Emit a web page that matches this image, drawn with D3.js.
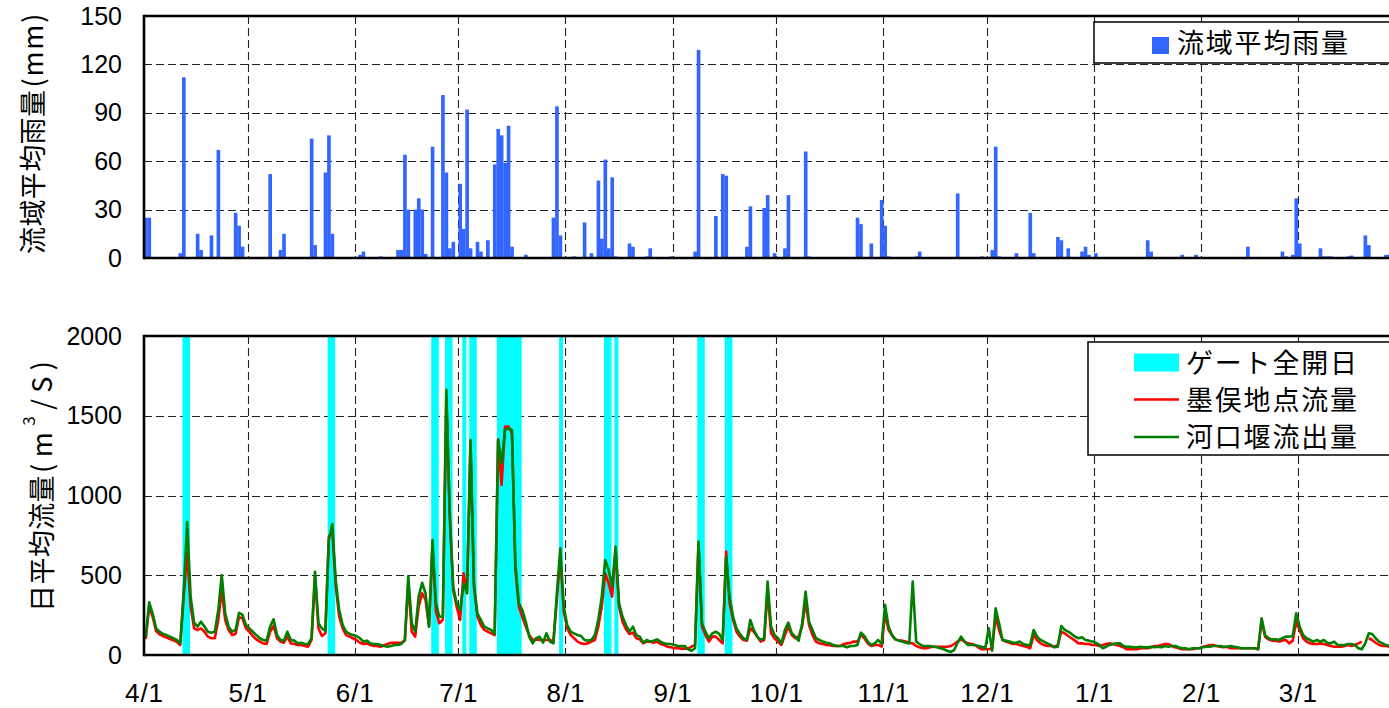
<!DOCTYPE html>
<html>
<head>
<meta charset="utf-8">
<script src="https://cdn.jsdelivr.net/npm/d3@7"></script>
<style>
  body { margin: 0; background: #fff; }
  svg { display: block; }
</style>
</head>
<body>
<svg id="chart" width="1389" height="708"></svg>
<script>
// ---- data -------------------------------------------------------------
// Daily series start on 4/1 (index 0 = 4/1, one value per day).
const startDate = "2009-04-01";
const endDate = "2010-04-01";

// Basin-average daily rainfall (mm)
const rainfall = [
  25,25,0,0,0,0,0,0,0,0,
  3,112,0,0,0,15,5,0,0,14,
  0,67,0,0,0,0,28,20,7,0,
  0,0,0,0,0,0,52,0,0,5,
  15,0,0,0,0,0,0,0,74,8,
  0,0,53,76,15,0,0,0,0,0,
  0,0,2,4,0,0,0,0,1,0,
  0,0,0,5,5,64,30,0,30,37,
  30,2.5,0,69,0,0,101,53,6,10,
  0,46,18,92,6,0,10,4,0,11,
  0,58,80,76,59,82,7,0,0,0,
  2,0,0,0,0,0,0,0,25,94,
  14,0,0,0,1,0,0,22,0,3,
  0,48,12,61,6,50,1,0,0,0,
  9,7,0,0,0,1,6,0,0,0,
  0,0,1,0,0,0,0,0,0,4,
  129,0,0,0,0,26,0,52,51,0,
  0,0,0,0,7,32,0,0,0,31,
  39,0,3,0,0,6,39,0,0,0,
  0,66,1,0,0,0,0,0,0,0,
  0,0,0,0,0,0,25,21,0,0,
  9,0,0,36,20,1,0,0,0,0,
  0,0,0,1,4,0,0,0,0,0,
  0,0,0,0,0,40,0,0,0,0,
  0,0,1,0,0,5,69,1,0,0,
  0,0,3,0,0,0,28,3,0,0,
  0,0,0,0,13,11,0,6,0,0,
  0,4,7,2,0,3,0,0,0,0,
  0,0,0,0,0,0,0,0,0,0,
  11,4,0,0,0,0,0,0,0,0,
  2,0,0,0,2,0,0,0,0,0,
  0,0,0,0,0,0,0,0,0,7,
  0,0,0,0.5,0,0,0,0,0,4,
  1,0,2,37,9,0.5,0,0,0,0,
  6,1,1,1,0,0,0,0,1,1.5,
  0.5,0,0,14,8,0.5,0.5,0.5,0,2,
  2
];

// Daily mean discharge at Sunomata (m3/s)
const flowSunomata = [
  100,305,240,150,130,118,110,100,92,82,
  63,370,640,303,167,157,167,146,115,105,
  105,220,408,220,157,125,132,236,230,167,
  146,119,98,84,73,69,146,182,105,84,
  77,115,73,69,63,63,56,52,94,491,
  167,119,136,740,784,428,240,167,125,115,
  105,94,77,69,73,63,56,56,52,61,
  69,77,77,77,77,90,449,146,115,303,
  387,345,178,680,272,199,220,1620,867,408,
  303,220,512,387,1338,428,240,188,157,146,
  136,125,1352,1066,1432,1432,1390,533,303,240,
  178,125,94,98,94,94,94,94,84,345,
  617,272,167,125,105,84,73,69,73,84,
  94,178,303,512,449,366,659,303,209,161,
  132,140,105,98,73,84,84,77,84,69,
  63,52,48,42,42,40,40,40,52,63,
  700,178,125,84,115,115,94,73,648,324,
  220,146,115,94,90,167,146,115,84,94,
  397,136,105,84,63,125,178,125,105,115,
  178,334,188,125,84,73,69,63,61,56,
  56,56,69,73,77,84,84,125,105,73,
  56,63,63,52,261,157,125,98,90,90,
  84,77,73,56,48,42,42,48,52,52,
  52,52,52,56,69,84,98,84,73,69,
  63,48,36,36,36,42,240,157,94,84,
  77,69,69,63,56,52,42,125,94,73,
  63,56,56,52,63,146,136,119,105,90,
  73,73,69,69,63,63,56,63,69,73,
  69,63,56,48,36,36,36,36,42,42,
  42,48,56,56,63,69,69,56,48,42,
  36,36,36,36,42,42,52,56,63,63,
  56,52,48,52,42,42,42,42,42,42,
  42,42,36,220,115,98,90,90,84,90,
  94,73,90,209,157,105,84,73,69,69,
  73,69,63,56,52,52,52,56,63,56,
  63,73,84,null,105,94,77,63,56,56,
  52
];

// Daily outflow from the estuary weir (m3/s)
const flowWeirOutflow = [
  110,330,260,167,146,132,125,115,105,94,
  73,400,834,366,203,178,209,178,146,140,
  146,282,502,261,178,146,157,265,251,188,
  167,146,125,105,94,90,178,224,125,94,
  90,146,94,90,73,77,69,69,105,522,
  199,167,153,721,821,470,282,188,146,132,
  125,119,105,84,90,73,69,69,63,56,
  52,56,63,63,69,94,495,199,146,366,
  453,387,178,721,324,240,240,1662,888,428,
  324,282,449,387,1348,449,261,220,178,167,
  157,132,1348,1202,1411,1421,1411,575,324,282,
  209,115,73,105,115,77,136,84,73,387,
  669,303,188,146,136,125,119,94,90,94,
  125,220,366,596,533,428,680,324,240,188,
  146,178,125,115,77,94,84,90,98,84,
  73,69,69,63,56,56,56,36,27,42,
  711,199,146,105,136,146,132,94,617,366,
  240,167,132,105,94,220,157,115,94,105,
  460,178,125,105,73,157,203,136,115,90,
  199,397,209,157,105,94,84,77,73,63,
  56,56,56,48,56,56,63,140,119,84,
  63,73,94,69,314,178,125,98,90,84,
  77,73,460,84,69,56,56,56,52,48,
  42,36,27,19,31,77,115,84,63,63,
  63,56,52,42,167,27,293,199,94,90,
  84,77,77,84,69,63,63,157,115,94,
  84,73,63,48,52,182,157,146,132,115,
  105,111,94,90,84,77,63,42,52,63,
  69,73,73,56,52,52,48,48,52,48,
  48,52,48,52,48,56,52,56,56,48,
  42,42,36,42,42,42,48,52,52,56,
  56,56,52,52,56,52,48,42,42,42,
  42,42,36,230,125,105,98,98,94,105,
  115,115,119,261,178,125,105,94,84,94,
  84,94,77,73,84,63,63,63,69,69,
  63,42,36,73,136,132,105,84,73,63,
  56
];

// Days on which the weir gates were fully opened
const gateOpenDays = [
  "2009-04-12","2009-04-13","2009-05-24","2009-05-25",
  "2009-06-23","2009-06-24","2009-06-27","2009-06-28",
  "2009-07-02","2009-07-04","2009-07-05",
  "2009-07-12","2009-07-13","2009-07-14","2009-07-15","2009-07-16","2009-07-17","2009-07-18",
  "2009-07-30","2009-08-12","2009-08-13","2009-08-15",
  "2009-09-08","2009-09-09","2009-09-16","2009-09-17"
];

const monthLabels = ["4/1","5/1","6/1","7/1","8/1","9/1","10/1","11/1","12/1","1/1","2/1","3/1"];
const rainTicks = [0, 30, 60, 90, 120, 150];
const flowTicks = [0, 500, 1000, 1500, 2000];

const rainLegend = "流域平均雨量";
const gateLegend = "ゲート全開日";
const sunomataLegend = "墨俣地点流量";
const weirLegend = "河口堰流出量";

// ---- setup ------------------------------------------------------------
const svg = d3.select("#chart");
const CJK = "'Noto Sans CJK JP', 'Noto Sans', sans-serif";
const NUM = "'Liberation Sans', Arial, sans-serif";
const BLUE = "#3366ff", CYAN = "#00ffff", RED = "#ff0000", GREEN = "#008000";

const parse = d3.utcParse("%Y-%m-%d");
const t0 = parse(startDate), t1 = parse(endDate);
const DAY = 864e5;
const dateOf = i => new Date(t0.getTime() + i * DAY);

const left = 144, right = 1405;
const x = d3.scaleUtc().domain([t0, t1]).range([left, right]);
const dayW = x(dateOf(1)) - x(t0);

const rainTop = 16, rainBottom = 258;
const flowTop = 336, flowBottom = 655;
const yRain = d3.scaleLinear().domain([0, 150]).range([rainBottom, rainTop]);
const yFlow = d3.scaleLinear().domain([0, 2000]).range([flowBottom, flowTop]);

const monthStarts = d3.utcMonth.range(t0, t1);

function grid(g, yScale, ticks, top, bottom) {
  g.selectAll("line.h").data(ticks.slice(1, -1)).join("line")
    .attr("x1", left).attr("x2", 1389)
    .attr("y1", d => Math.round(yScale(d)) + 0.5).attr("y2", d => Math.round(yScale(d)) + 0.5);
  g.selectAll("line.v").data(monthStarts.slice(1)).join("line")
    .attr("x1", d => Math.round(x(d)) + 0.5).attr("x2", d => Math.round(x(d)) + 0.5)
    .attr("y1", top).attr("y2", bottom);
  g.attr("stroke", "#222").attr("stroke-width", 1.1).attr("stroke-dasharray", "8,4");
}

function frame(g, top, bottom) {
  g.attr("stroke", "#000").attr("stroke-width", 2.6).attr("fill", "none");
  g.append("line").attr("x1", left).attr("x2", 1389).attr("y1", top).attr("y2", top);
  g.append("line").attr("x1", left).attr("x2", 1389).attr("y1", bottom).attr("y2", bottom);
  g.append("line").attr("x1", left).attr("x2", left).attr("y1", top - 1.3).attr("y2", bottom + 1.3);
}

function yLabels(scale, ticks) {
  const ax = svg.append("g").attr("transform", `translate(${left},0)`)
    .call(d3.axisLeft(scale).tickValues(ticks).tickSize(0).tickPadding(22).tickFormat(d3.format("d")));
  ax.select(".domain").remove();
  ax.selectAll("text").attr("font-family", NUM).attr("font-size", 25).attr("fill", "#000");
}

// Vertical axis title: CJK part reads upward from `bottom`, the unit part follows it.
function yTitle(cx, bottom, cjk, unitLen, unitParts) {
  const g = svg.append("g").attr("transform", `translate(${cx},${bottom}) rotate(-90)`)
    .attr("font-family", CJK).attr("font-size", 27).attr("fill", "#000");
  const t1el = g.append("text").attr("x", 0).attr("y", 0)
    .attr("dominant-baseline", "central").attr("letter-spacing", 0.4).text(cjk);
  const cjkLen = t1el.node().getComputedTextLength();
  const t2el = g.append("text").attr("x", cjkLen + 2).attr("y", 0)
    .attr("dominant-baseline", "central")
    .attr("textLength", unitLen).attr("lengthAdjust", "spacing");
  unitParts.forEach(p => {
    const ts = t2el.append("tspan").text(p.text);
    if (p.sup) ts.attr("baseline-shift", "super").attr("font-size", 17);
  });
}

// ---- rainfall panel -------------------------------------------------
grid(svg.append("g"), yRain, rainTicks, rainTop, rainBottom);

svg.append("g").attr("fill", BLUE)
  .selectAll("rect").data(rainfall.map((v, i) => ({ d: dateOf(i), v })).filter(e => e.v > 0))
  .join("rect")
  .attr("x", e => x(e.d))
  .attr("width", dayW + 0.2)
  .attr("y", e => yRain(e.v))
  .attr("height", e => rainBottom - yRain(e.v));

frame(svg.append("g"), rainTop, rainBottom);
yLabels(yRain, rainTicks);
yTitle(31, 254, "流域平均雨量", 74, [{ text: "(mm)" }]);

// rainfall legend
const lg1 = svg.append("g");
lg1.append("rect").attr("x", 1094).attr("y", 22).attr("width", 320).attr("height", 41)
  .attr("fill", "#fff").attr("stroke", "#000").attr("stroke-width", 1.5);
lg1.append("rect").attr("x", 1152).attr("y", 37).attr("width", 17).attr("height", 17).attr("fill", BLUE);
lg1.append("text").attr("x", 1177).attr("y", 53)
  .attr("font-family", CJK).attr("font-size", 27).attr("letter-spacing", 1.8)
  .text(rainLegend);

// ---- discharge panel -------------------------------------------------
grid(svg.append("g"), yFlow, flowTicks, flowTop, flowBottom);

svg.append("g").attr("fill", CYAN)
  .selectAll("rect").data(gateOpenDays.map(parse)).join("rect")
  .attr("x", d => x(d) + 0.5)
  .attr("width", dayW + 0.6)
  .attr("y", flowTop)
  .attr("height", flowBottom - flowTop);

const line = d3.line()
  .defined(e => e.v != null)
  .x(e => x(e.d))
  .y(e => yFlow(e.v));
const pts = arr => arr.map((v, i) => ({ d: new Date(dateOf(i).getTime() + DAY / 2), v }));

svg.append("path").datum(pts(flowSunomata)).attr("d", line)
  .attr("fill", "none").attr("stroke", RED).attr("stroke-width", 2.6).attr("stroke-linejoin", "round");
svg.append("path").datum(pts(flowWeirOutflow)).attr("d", line)
  .attr("fill", "none").attr("stroke", GREEN).attr("stroke-width", 2.6).attr("stroke-linejoin", "round");

frame(svg.append("g"), flowTop, flowBottom);
yLabels(yFlow, flowTicks);

// month labels under the discharge panel
const xa = svg.append("g").attr("transform", `translate(0,${flowBottom})`)
  .call(d3.axisBottom(x).tickValues(monthStarts).tickSize(0).tickPadding(29)
    .tickFormat((d, i) => monthLabels[i]));
xa.select(".domain").remove();
xa.selectAll("text").attr("font-family", NUM).attr("font-size", 26).attr("letter-spacing", 1).attr("fill", "#000");

yTitle(40, 612, "日平均流量", 112, [{ text: "(m" }, { text: "3", sup: true }, { text: "/S)" }]);

// discharge legend
const lg2 = svg.append("g");
lg2.append("rect").attr("x", 1088).attr("y", 342).attr("width", 330).attr("height", 113)
  .attr("fill", "#fff").attr("stroke", "#000").attr("stroke-width", 1.5);
const rows = [
  { name: gateLegend, kind: "box", color: CYAN, cy: 362.5 },
  { name: sunomataLegend, kind: "line", color: RED, cy: 399.5 },
  { name: weirLegend, kind: "line", color: GREEN, cy: 437 }
];
rows.forEach(r => {
  if (r.kind === "box") {
    lg2.append("rect").attr("x", 1134).attr("y", r.cy - 9).attr("width", 45).attr("height", 18).attr("fill", r.color);
  } else {
    lg2.append("line").attr("x1", 1134).attr("x2", 1179).attr("y1", r.cy).attr("y2", r.cy)
      .attr("stroke", r.color).attr("stroke-width", 2.5);
  }
  lg2.append("text").attr("x", 1186).attr("y", r.cy + 10)
    .attr("font-family", CJK).attr("font-size", 27).attr("letter-spacing", 1.8)
    .text(r.name);
});
</script>
</body>
</html>
